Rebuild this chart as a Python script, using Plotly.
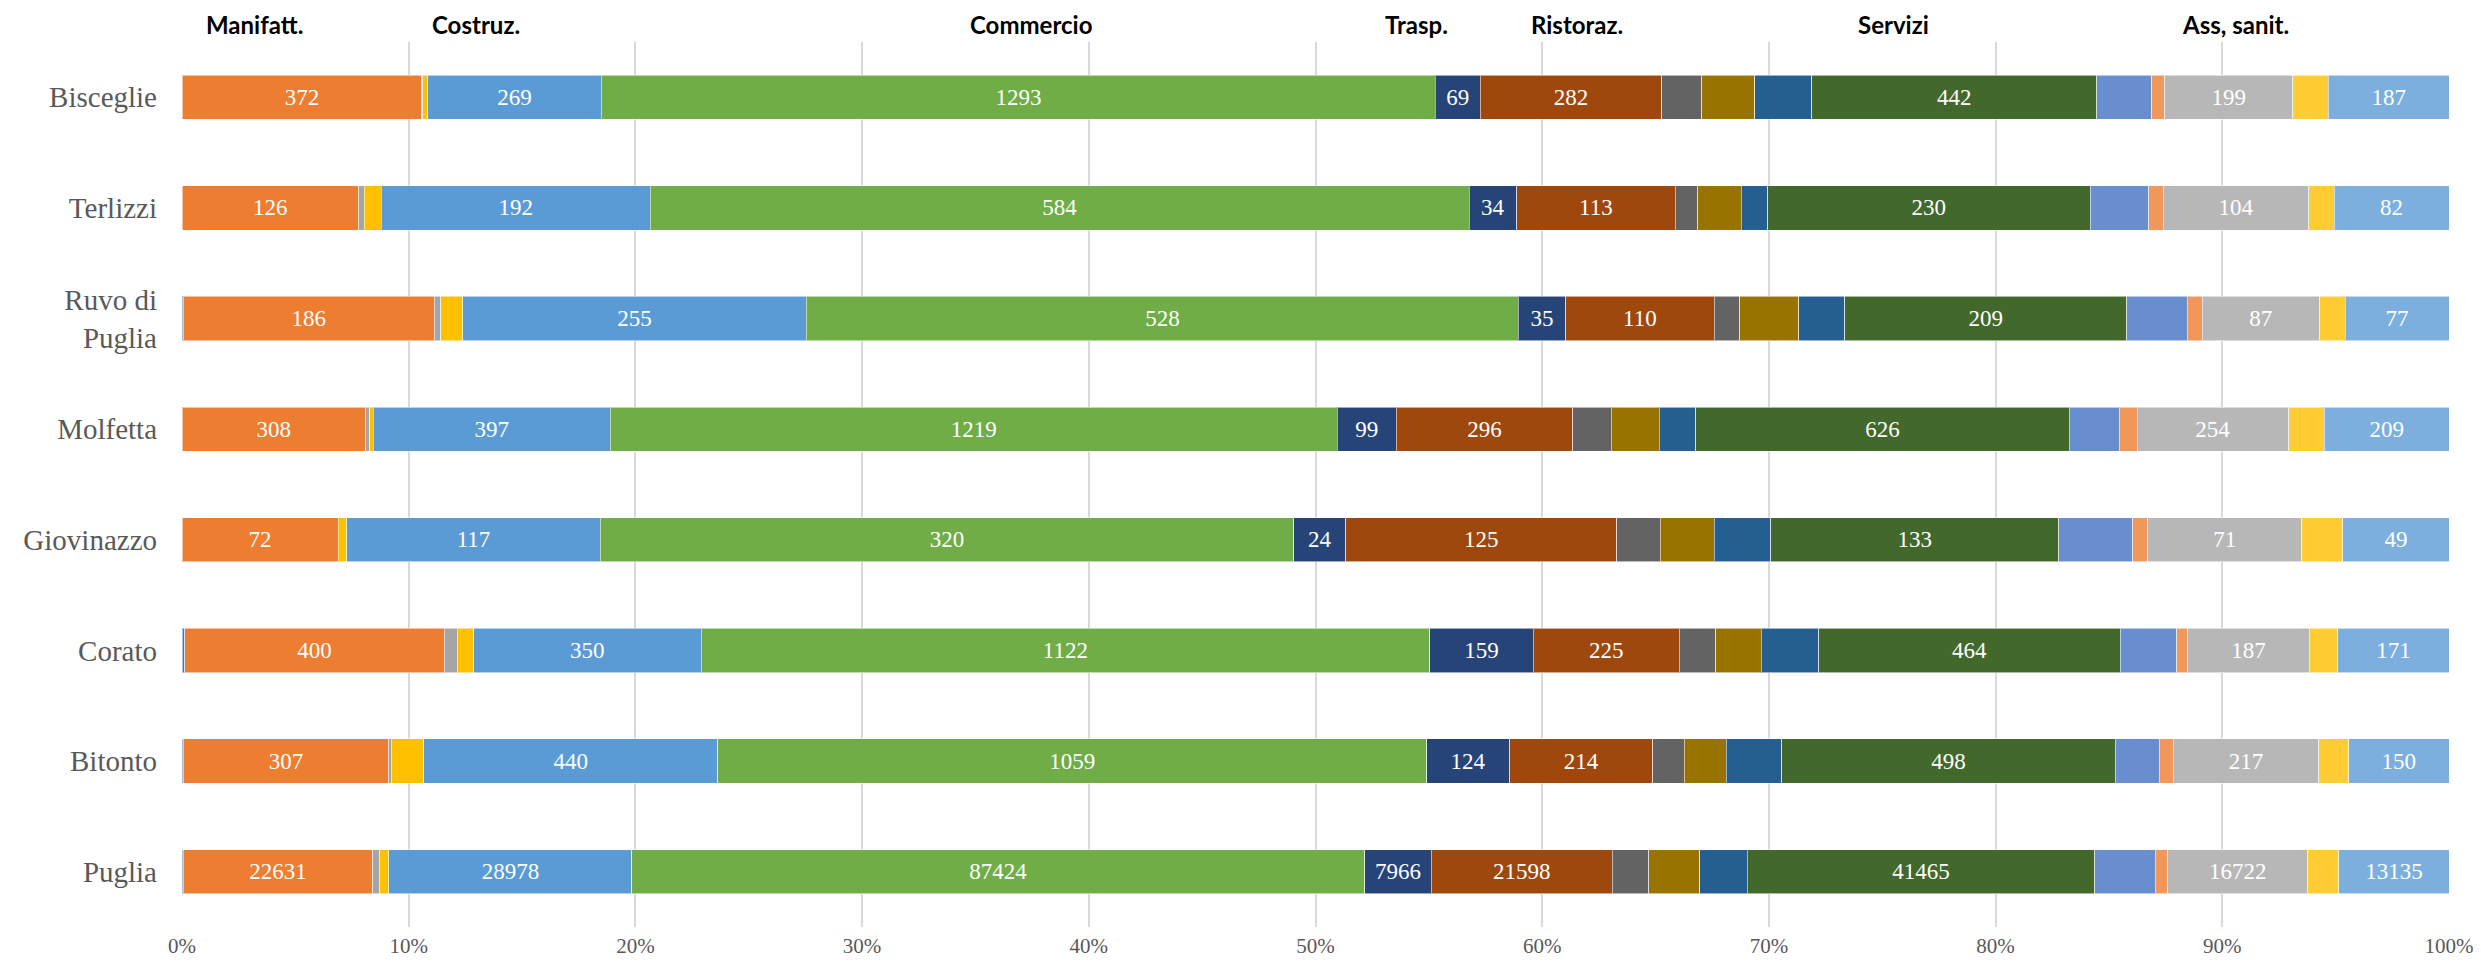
import plotly.graph_objects as go

comuni = ["Bisceglie", "Terlizzi", "Ruvo di<br>Puglia", "Molfetta", "Giovinazzo", "Corato", "Bitonto", "Puglia"]

agricoltura   = [0, 0, 1, 0, 0, 4, 2, 150]
manifattura   = [372, 126, 186, 308, 72, 400, 307, 22631]
energia       = [1, 4, 5, 7, 0, 20, 4, 835]
acqua_rifiuti = [8, 12, 16, 6, 4, 25, 48, 1073]
costruzioni   = [269, 192, 255, 397, 117, 350, 440, 28978]
commercio     = [1293, 584, 528, 1219, 320, 1122, 1059, 87424]
trasporti     = [69, 34, 35, 99, 24, 159, 124, 7966]
ristorazione  = [282, 113, 110, 296, 125, 225, 214, 21598]
informazione  = [62, 16, 19, 64, 20, 56, 47, 4310]
finanza       = [82, 31, 44, 81, 25, 70, 63, 6124]
immobiliari   = [88, 19, 34, 61, 26, 89, 83, 5646]
servizi       = [442, 230, 209, 626, 133, 464, 498, 41465]
noleggio      = [85, 42, 45, 84, 34, 87, 66, 7198]
istruzione    = [20, 10, 11, 30, 7, 17, 21, 1516]
sanita        = [199, 104, 87, 254, 71, 187, 217, 16722]
arte          = [55, 18, 19, 60, 19, 44, 45, 3700]
altri_servizi = [187, 82, 77, 209, 49, 171, 150, 13135]

headers = ["Manifatt.", "Costruz.", "Commercio", "Trasp.", "Ristoraz.", "Servizi", "Ass, sanit."]
header_x = [0.0318, 0.1295, 0.3747, 0.5444, 0.6152, 0.7548, 0.906]

ticks = [0, 10, 20, 30, 40, 50, 60, 70, 80, 90, 100]

series = [
    ("Agricoltura", agricoltura, "#4472C4", False),
    ("Manifattura", manifattura, "#ED7D31", True),
    ("Energia", energia, "#A5A5A5", False),
    ("Acqua e rifiuti", acqua_rifiuti, "#FFC000", False),
    ("Costruzioni", costruzioni, "#5B9BD5", True),
    ("Commercio", commercio, "#70AD47", True),
    ("Trasporti", trasporti, "#264478", True),
    ("Ristorazione", ristorazione, "#9E480E", True),
    ("Informazione", informazione, "#636363", False),
    ("Finanza", finanza, "#997300", False),
    ("Immobiliari", immobiliari, "#255E91", False),
    ("Servizi", servizi, "#43682B", True),
    ("Noleggio", noleggio, "#698ED0", False),
    ("Istruzione", istruzione, "#F1975A", False),
    ("Sanità e assistenza", sanita, "#B7B7B7", True),
    ("Arte", arte, "#FFCD33", False),
    ("Altri servizi", altri_servizi, "#7CAFDD", True),
]

serif = "Liberation Serif, Times New Roman, serif"

fig = go.Figure()
for name, vals, color, labelled in series:
    fig.add_trace(go.Bar(
        y=comuni, x=vals, name=name, orientation="h",
        marker=dict(color=color, line=dict(color="rgba(255,255,255,0.55)", width=1)),
        text=[str(v) for v in vals] if labelled else None,
        textposition="inside" if labelled else "none",
        insidetextanchor="middle",
        textangle=0,
        textfont=dict(family=serif, size=23, color="white"),
        hoverinfo="x+y+name",
    ))

for h, hx in zip(headers, header_x):
    fig.add_annotation(
        x=hx, y=1.0, xref="paper", yref="paper", yshift=18,
        text="<b>" + h + "</b>", showarrow=False,
        font=dict(family="Lato, Open Sans, sans-serif", size=24, color="black"),
        xanchor="center", yanchor="middle",
    )

# the page body has an 8px margin, so the figure is sized to fit the window
fig.update_layout(
    barmode="stack", barnorm="percent", bargap=0.6,
    width=2473, height=950,
    margin=dict(l=174, r=32, t=34, b=31, autoexpand=False),
    plot_bgcolor="white", paper_bgcolor="white",
    showlegend=False,
    font=dict(family=serif, color="#595959"),
)
fig.update_xaxes(
    range=[0, 100], tickvals=ticks, ticktext=[f"{t}%" for t in ticks],
    showgrid=True, gridcolor="#D9D9D9", gridwidth=1.5,
    zeroline=False, showline=False,
    tickfont=dict(family=serif, size=21, color="#595959"),
    ticks="", ticklabelstandoff=4, ticklabeloverflow="allow",
    automargin=False,
)
fig.update_yaxes(
    categoryorder="array", categoryarray=comuni, autorange="reversed",
    showgrid=False, zeroline=False, showline=False,
    tickfont=dict(family=serif, size=29, color="#595959"),
    ticks="", ticklabelstandoff=24, automargin=False,
)

fig.write_html("out.html")
